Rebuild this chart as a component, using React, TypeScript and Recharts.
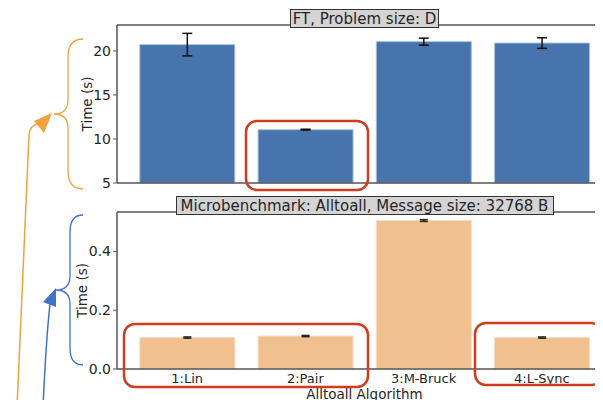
import { BarChart, Bar, XAxis, YAxis, ErrorBar } from 'recharts';

const algorithms = ['1:Lin', '2:Pair', '3:M-Bruck', '4:L-Sync'];
const ftTimes = [20.72, 11.06, 21.06, 20.9];
const ftErrors = [1.28, 0.05, 0.4, 0.6];
const microTimes = [0.107, 0.112, 0.505, 0.107];
const microErrors = [0.002, 0.002, 0.003, 0.002];
const ftTicks = [5, 10, 15, 20];
const microTicks = [0, 0.2, 0.4];

const ftData = algorithms.map((name, i) => ({ name, time: ftTimes[i], err: ftErrors[i] }));
const microData = algorithms.map((name, i) => ({ name, time: microTimes[i], err: microErrors[i] }));

const FONT = '"DejaVu Sans", sans-serif';
const TEXT = '#262626';
const SPINE = '#555';
const xTickStyle = { fontSize: 13, fill: TEXT, fontFamily: FONT };
const yTickStyle = { fontSize: 14, fill: TEXT, fontFamily: FONT };

export default function App() {
  return (
    <div style={{ position: 'relative', width: 603, height: 408, margin: -8, overflow: 'hidden', background: '#fff' }}>
      {/* top panel: FT */}
      <div style={{ position: 'absolute', left: 0, top: 0 }}>
        <BarChart width={620} height={198} data={ftData} margin={{ top: 24, right: 8, left: 77, bottom: 14 }} barCategoryGap="10%">
          <XAxis dataKey="name" height={1} tick={false} tickLine={false} axisLine={{ stroke: SPINE, strokeWidth: 1.5 }} padding={{ left: 11, right: 11 }} />
          <XAxis xAxisId="top" orientation="top" dataKey="name" height={1} tick={false} tickLine={false} axisLine={{ stroke: SPINE, strokeWidth: 1.5 }} />
          <YAxis
            type="number"
            domain={[5, 22.95]}
            ticks={ftTicks}
            interval={0}
            width={40}
            tickSize={4}
            tickMargin={2}
            tick={yTickStyle}
            tickLine={{ stroke: SPINE }}
            axisLine={{ stroke: SPINE, strokeWidth: 1.5 }}
            label={{ value: 'Time (s)', angle: -90, position: 'insideLeft', offset: 10, style: { textAnchor: 'middle', fontSize: 13.5, fill: TEXT, fontFamily: FONT } }}
          />
          <Bar dataKey="time" fill="#4874ad" stroke="#a9c0dd" strokeWidth={1} isAnimationActive={false}>
            <ErrorBar dataKey="err" width={5} stroke="#111" strokeWidth={1.5} direction="y" />
          </Bar>
        </BarChart>
      </div>

      {/* bottom panel: microbenchmark */}
      <div style={{ position: 'absolute', left: 0, top: 0 }}>
        <BarChart width={620} height={408} data={microData} margin={{ top: 211, right: 8, left: 77, bottom: 0 }} barCategoryGap="10%">
          <XAxis
            dataKey="name"
            height={39}
            tickSize={0}
            tickMargin={5}
            tickLine={false}
            tick={xTickStyle}
            axisLine={{ stroke: SPINE, strokeWidth: 1.5 }}
            padding={{ left: 11, right: 11 }}
            label={{ value: 'Alltoall Algorithm', position: 'insideBottom', offset: 9, style: { fontSize: 13.5, fill: TEXT, fontFamily: FONT } }}
          />
          <XAxis xAxisId="top" orientation="top" dataKey="name" height={1} tick={false} tickLine={false} axisLine={{ stroke: SPINE, strokeWidth: 1.5 }} />
          <YAxis
            type="number"
            domain={[0, 0.534]}
            ticks={microTicks}
            interval={0}
            width={40}
            tickSize={4}
            tickMargin={2}
            tick={yTickStyle}
            tickFormatter={(v: number) => v.toFixed(1)}
            tickLine={{ stroke: SPINE }}
            axisLine={{ stroke: SPINE, strokeWidth: 1.5 }}
            label={{ value: 'Time (s)', angle: -90, position: 'insideLeft', offset: 5, style: { textAnchor: 'middle', fontSize: 13.5, fill: TEXT, fontFamily: FONT } }}
          />
          <Bar dataKey="time" fill="#f0c18f" stroke="#f6dcc0" strokeWidth={1} isAnimationActive={false}>
            <ErrorBar dataKey="err" width={4} stroke="#222" strokeWidth={1.5} direction="y" />
          </Bar>
        </BarChart>
      </div>

      {/* annotations: titles, braces, arrows, highlight boxes */}
      <svg width={603} height={408} style={{ position: 'absolute', left: 0, top: 0, pointerEvents: 'none' }}>
        <rect x={290.5} y={9.5} width={148} height={18} fill="#d4d4d4" stroke="#333" strokeWidth={1} />
        <text x={364.5} y={23.5} textAnchor="middle" fontSize={15} fill={TEXT} fontFamily={FONT}>FT, Problem size: D</text>
        <rect x={176.5} y={196.5} width={377} height={18} fill="#d4d4d4" stroke="#333" strokeWidth={1} />
        <text x={364.5} y={210.5} textAnchor="middle" fontSize={15} fill={TEXT} fontFamily={FONT}>Microbenchmark: Alltoall, Message size: 32768 B</text>

        <path d="M83,39 Q68,39 68,57 L68,100 Q68,114 54,114 Q68,114 68,128 L68,171 Q68,189 83,189" fill="none" stroke="#f2a23c" strokeWidth={1.3} />
        <path d="M83,215 Q70,215 70,232 L70,276 Q70,290 56,290 Q70,290 70,304 L70,348 Q70,365 83,365" fill="none" stroke="#3f72c9" strokeWidth={1.3} />

        <path d="M17,408 Q26,200 29,135 Q30,125 38,124" fill="none" stroke="#f2a23c" strokeWidth={1.5} />
        <polygon points="52,113 34,121 44,133" fill="#f2a23c" />
        <path d="M43,408 Q46,340 50,304" fill="none" stroke="#3f72c9" strokeWidth={1.5} />
        <polygon points="56,288 43,302 56,307" fill="#3f72c9" />

        <rect x={246} y={121} width={122} height={69} rx={11} fill="none" stroke="#cf3d1e" strokeWidth={2.5} />
        <rect x={124} y={324} width={244} height={63} rx={11} fill="none" stroke="#cf3d1e" strokeWidth={2.5} />
        <rect x={475} y={323} width={127} height={62} rx={11} fill="none" stroke="#cf3d1e" strokeWidth={2.5} />
      </svg>
    </div>
  );
}
